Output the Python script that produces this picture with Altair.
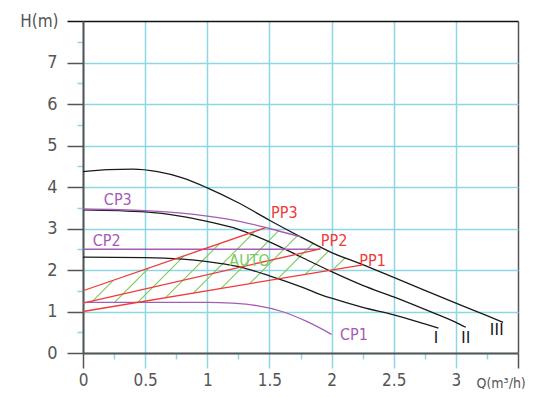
import altair as alt
import pandas as pd
import numpy as np

# ---- pump curves (Q in m3/h, H in m) ----
Q_I = [0, 0.5, 0.8, 1.0, 1.1, 1.25, 1.5, 1.75, 1.9, 2.0, 2.25, 2.5, 2.75, 2.86]
H_I = [2.31, 2.30, 2.26, 2.20, 2.16, 2.08, 1.86, 1.60, 1.42, 1.32, 1.10, 0.92, 0.70, 0.60]
Q_II = [0, 0.5, 0.78, 1.0, 1.25, 1.42, 1.5, 1.75, 2.0, 2.25, 2.5, 2.75, 3.0, 3.08]
H_II = [3.45, 3.40, 3.30, 3.17, 2.98, 2.78, 2.68, 2.32, 1.96, 1.63, 1.35, 1.05, 0.74, 0.62]
Q_III = [0, 0.2, 0.4, 0.6, 0.8, 1.0, 1.25, 1.5, 1.75, 2.0, 2.25, 2.5, 2.75, 3.0, 3.25, 3.38]
H_III = [4.37, 4.42, 4.43, 4.37, 4.22, 3.98, 3.62, 3.20, 2.80, 2.42, 2.13, 1.82, 1.51, 1.20, 0.90, 0.74]
Q_CP3 = [0, 0.5, 1.0, 1.25, 1.5, 1.75]
H_CP3 = [3.47, 3.43, 3.30, 3.18, 3.00, 2.80]
Q_CP2 = [0, 1.91]
H_CP2 = [2.50, 2.50]
Q_CP1 = [0, 0.5, 1.0, 1.2, 1.4, 1.6, 1.8, 2.0]
H_CP1 = [1.22, 1.22, 1.22, 1.20, 1.14, 1.00, 0.76, 0.45]
Q_PP3 = [0, 1.47]
H_PP3 = [1.50, 3.02]
Q_PP2 = [0, 1.91]
H_PP2 = [1.20, 2.51]
Q_PP1 = [0, 2.24]
H_PP1 = [1.00, 2.12]

# AUTO hatch lines: H = c + slope * Q
HATCH_C = [1.02, 0.46, -0.10, -0.66, -1.22, -1.78, -2.35, -2.91, -3.47, -4.03]
HATCH_SLOPE = 3.0

# labels
LBL_TEXT = ["CP3", "CP2", "CP1", "PP3", "PP2", "PP1", "AUTO"]
LBL_Q = [0.28, 0.19, 2.18, 1.62, 2.02, 2.33, 1.34]
LBL_H = [3.69, 2.69, 0.43, 3.37, 2.70, 2.22, 2.22]
LBL_KIND = ["cp", "cp", "cp", "pp", "pp", "pp", "auto"]
ROMAN_TEXT = ["Ⅰ", "Ⅱ", "Ⅲ"]
ROMAN_Q = [2.84, 3.08, 3.33]
ROMAN_H = [0.35, 0.35, 0.56]

X_MAJOR = [0, 0.5, 1, 1.5, 2, 2.5, 3, 3.5]
X_MINOR = [0.25, 0.75, 1.25, 1.75, 2.25, 2.75, 3.25]
Y_MAJOR = [0, 1, 2, 3, 4, 5, 6, 7, 8]
Y_MINOR = [0.5, 1.5, 2.5, 3.5, 4.5, 5.5, 6.5, 7.5]

FONT = "DejaVu Sans Condensed, sans-serif"
CYAN = "#8dd7e1"
DARK = "#555555"
KIND_COLORS = {"pump": "#1a1a1a", "cp": "#a45cb5", "pp": "#f03a3a", "auto": "#7cc95c"}

series = [
    ("I", "pump", Q_I, H_I), ("II", "pump", Q_II, H_II), ("III", "pump", Q_III, H_III),
    ("CP3", "cp", Q_CP3, H_CP3), ("CP2", "cp", Q_CP2, H_CP2), ("CP1", "cp", Q_CP1, H_CP1),
    ("PP3", "pp", Q_PP3, H_PP3), ("PP2", "pp", Q_PP2, H_PP2), ("PP1", "pp", Q_PP1, H_PP1),
]
rows = []
for name, kind, qs, hs in series:
    for i, (q, h) in enumerate(zip(qs, hs)):
        rows.append({"name": name, "kind": kind, "Q": q, "H": h, "o": i})
curves = pd.DataFrame(rows)

# hatch segments clipped between lower (PP1 / CP1 level) and upper (PP3 -> CP3 -> III) boundaries
qq = np.linspace(0, 2.4, 4801)
upper = np.where(qq <= Q_PP3[-1], np.interp(qq, Q_PP3, H_PP3),
                 np.where(qq <= Q_CP3[-1], np.interp(qq, Q_CP3, H_CP3), np.interp(qq, Q_III, H_III)))
lower = np.maximum(np.interp(qq, Q_PP1, H_PP1), H_CP1[0])
hatch_rows = []
for c in HATCH_C:
    hl = c + HATCH_SLOPE * qq
    ok = (hl >= lower) & (hl <= upper) & (qq <= Q_PP1[-1] + 0.05)
    idx = np.where(ok)[0]
    if len(idx) == 0:
        continue
    q0, q1 = qq[idx[0]], qq[idx[-1]]
    hatch_rows.append({"Q": q0, "H": c + HATCH_SLOPE * q0, "Q2": q1, "H2": c + HATCH_SLOPE * q1})
hatch = pd.DataFrame(hatch_rows)

labels = pd.DataFrame({"t": LBL_TEXT, "Q": LBL_Q, "H": LBL_H, "kind": LBL_KIND})
romans = pd.DataFrame({"t": ROMAN_TEXT, "Q": ROMAN_Q, "H": ROMAN_H})

xscale = alt.Scale(domain=[0, 3.5], nice=False, zero=False)
yscale = alt.Scale(domain=[0, 8], nice=False, zero=False)
color = alt.Color("kind:N", scale=alt.Scale(domain=list(KIND_COLORS.keys()),
                                            range=list(KIND_COLORS.values())), legend=None)

x_major_axis = alt.Axis(
    orient="bottom",
    values=X_MAJOR, format="~g",
    labelExpr="datum.value >= 3.5 ? '' : datum.label",
    grid=True,
    gridColor={"condition": {"test": "datum.value >= 3.5", "value": DARK}, "value": CYAN},
    gridWidth=1.5,
    tickColor={"condition": {"test": "datum.value == 0 || datum.value >= 3.5", "value": DARK}, "value": CYAN},
    tickSize=15, tickWidth=1.5,
    domainColor=DARK, domainWidth=2,
    labelFont=FONT, labelFontSize=17, labelColor=DARK, labelPadding=4, labelFlush=False,
    title="Q(m³/h)", titleFont=FONT, titleFontSize=14, titleColor=DARK, titleFontWeight="normal",
    titleAngle=0, titleAlign="left", titleBaseline="middle", titleX=393, titleY=30,
)
y_major_axis = alt.Axis(
    orient="left",
    values=Y_MAJOR, format="~g",
    labelExpr="datum.value >= 8 ? '' : datum.label",
    grid=True,
    gridColor={"condition": {"test": "datum.value >= 8", "value": "#111111"}, "value": CYAN},
    gridWidth=1.5,
    tickColor={"condition": {"test": "datum.value >= 8", "value": "#111111"}, "value": DARK},
    tickSize=16, tickWidth=1.5,
    domainColor=DARK, domainWidth=2,
    labelFont=FONT, labelFontSize=18, labelColor=DARK, labelPadding=10, labelFlush=False,
    title="H(m)", titleFont=FONT, titleFontSize=17, titleColor=DARK, titleFontWeight="normal",
    titleAngle=0, titleAlign="right", titleBaseline="middle", titleX=-25, titleY=0,
)
x_minor_axis = alt.Axis(values=X_MINOR, labels=False, grid=False, domain=False,
                        tickColor=CYAN, tickSize=6, tickWidth=1.5, title=None, orient="bottom")
y_minor_axis = alt.Axis(values=Y_MINOR, labels=False, grid=False, domain=False,
                        tickColor=CYAN, tickSize=6, tickWidth=1.5, title=None, orient="left")

hatch_layer = alt.Chart(hatch).mark_rule(color=KIND_COLORS["auto"], strokeWidth=1.1).encode(
    x=alt.X("Q:Q", scale=xscale, axis=x_minor_axis),
    y=alt.Y("H:Q", scale=yscale, axis=y_minor_axis),
    x2="Q2:Q", y2="H2:Q",
)
curve_layer = alt.Chart(curves).mark_line(strokeWidth=1.3, interpolate="monotone").encode(
    x=alt.X("Q:Q", scale=xscale, axis=x_major_axis),
    y=alt.Y("H:Q", scale=yscale, axis=y_major_axis),
    detail="name:N", order="o:Q", color=color,
)
text_layer = alt.Chart(labels).mark_text(font=FONT, fontSize=16, align="center", baseline="middle").encode(
    x=alt.X("Q:Q", scale=xscale, axis=None),
    y=alt.Y("H:Q", scale=yscale, axis=None),
    text="t:N", color=color,
)
roman_layer = alt.Chart(romans).mark_text(
    font="Noto Sans CJK JP, DejaVu Sans, sans-serif", fontSize=16, align="center", baseline="middle",
    color=KIND_COLORS["pump"],
).encode(
    x=alt.X("Q:Q", scale=xscale, axis=None),
    y=alt.Y("H:Q", scale=yscale, axis=None),
    text="t:N",
)

chart = alt.layer(hatch_layer, curve_layer, text_layer, roman_layer).resolve_axis(
    x="independent", y="independent"
).properties(
    width=435, height=332,
    autosize=alt.AutoSizeParams(type="none"),
    padding={"left": 75, "top": 13, "right": 8, "bottom": 36},
).configure_view(stroke=None)

chart.save("out.html", embed_options={"renderer": "svg", "actions": False})
